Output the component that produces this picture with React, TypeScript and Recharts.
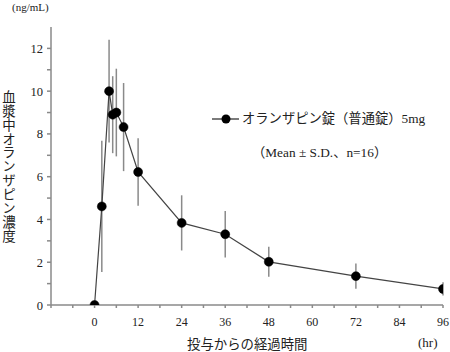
import React from 'react';
import { LineChart, Line, XAxis, YAxis, ErrorBar } from 'recharts';

const hours = [0, 2, 4, 5, 6, 8, 12, 24, 36, 48, 72, 96];
const meanConc = [0, 4.61, 10.0, 8.9, 9.0, 8.32, 6.22, 3.84, 3.31, 2.02, 1.35, 0.75];
const sdConc = [0, 3.07, 2.4, 1.8, 2.05, 2.06, 1.58, 1.29, 1.09, 0.7, 0.59, 0.31];
const xTicks = [-12, -6, 0, 6, 12, 18, 24, 30, 36, 42, 48, 54, 60, 66, 72, 78, 84, 90, 96];
const xLabelTicks = [0, 12, 24, 36, 48, 60, 72, 84, 96];
const yTicks = [0, 1, 2, 3, 4, 5, 6, 7, 8, 9, 10, 11, 12];
const yLabelTicks = [0, 2, 4, 6, 8, 10, 12];

const data = hours.map((h, i) => ({ t: h, mean: meanConc[i], sd: sdConc[i] }));

const SERIF = "'Liberation Serif', 'Noto Sans CJK JP', serif";
const JP = "'Noto Sans CJK JP', sans-serif";
const AXIS = '#8a8a8a';

const XTick = (props: any) => {
  const { x, y, payload } = props;
  if (!xLabelTicks.includes(payload.value)) return null;
  return (
    <text x={x} y={y + 16} textAnchor="middle" fontFamily={SERIF} fontSize={12} fill="#222">
      {payload.value}
    </text>
  );
};

const YTick = (props: any) => {
  const { x, y, payload } = props;
  if (!yLabelTicks.includes(payload.value)) return null;
  return (
    <text x={x} y={y + 4.5} textAnchor="end" fontFamily={SERIF} fontSize={12.5} fill="#222">
      {payload.value}
    </text>
  );
};

export default function App() {
  return (
    <div style={{ position: 'absolute', left: 0, top: 0, width: 450, height: 352, background: '#fff' }}>
      <LineChart width={450} height={352} data={data} margin={{ top: 27, right: 7, left: 0, bottom: 0 }}>
        <XAxis
          dataKey="t"
          type="number"
          domain={[-12, 96]}
          ticks={xTicks}
          interval={0}
          height={47}
          stroke={AXIS}
          strokeWidth={1.5}
          tickSize={3}
          tickMargin={2}
          tick={<XTick />}
          allowDataOverflow
        />
        <YAxis
          type="number"
          domain={[0, 13]}
          ticks={yTicks}
          interval={0}
          width={51}
          stroke={AXIS}
          strokeWidth={1.5}
          tickSize={4}
          tickMargin={4}
          tick={<YTick />}
          allowDataOverflow
        />
        <Line
          dataKey="mean"
          stroke="#444"
          strokeWidth={1.2}
          isAnimationActive={false}
          dot={{ r: 4.5, fill: '#000', stroke: '#000', strokeWidth: 0.5 }}
          activeDot={false}
        >
          <ErrorBar dataKey="sd" direction="y" width={0} stroke="#8a8a8a" strokeWidth={1.5} />
        </Line>
      </LineChart>

      <div style={{ position: 'absolute', left: 12, top: 0, fontFamily: SERIF, fontSize: 11, lineHeight: '14px', color: '#222', whiteSpace: 'nowrap' }}>
        (ng/mL)
      </div>
      <div
        style={{
          position: 'absolute',
          left: 1,
          top: 90,
          fontFamily: JP,
          fontSize: 13.5,
          lineHeight: '15px',
          color: '#222',
          writingMode: 'vertical-rl',
          letterSpacing: 0.4,
        }}
      >
        血漿中オランザピン濃度
      </div>
      <div style={{ position: 'absolute', left: 187, top: 334, fontFamily: JP, fontSize: 13.4, lineHeight: '18px', color: '#222', whiteSpace: 'nowrap' }}>
        投与からの経過時間
      </div>
      <div style={{ position: 'absolute', left: 418, top: 334, fontFamily: SERIF, fontSize: 13, lineHeight: '18px', color: '#222', whiteSpace: 'nowrap' }}>
        (hr)
      </div>

      <svg style={{ position: 'absolute', left: 0, top: 0 }} width={450} height={352} pointerEvents="none">
        <line x1={212} y1={119} x2={239} y2={119} stroke="#222" strokeWidth={1.2} />
        <circle cx={226} cy={119} r={4.5} fill="#000" />
      </svg>
      <div style={{ position: 'absolute', left: 242, top: 110, fontFamily: SERIF, fontSize: 13.3, lineHeight: '18px', color: '#222', whiteSpace: 'nowrap' }}>
        オランザピン錠（普通錠）5mg
      </div>
      <div style={{ position: 'absolute', left: 252, top: 144, fontFamily: SERIF, fontSize: 13.3, lineHeight: '18px', color: '#222', whiteSpace: 'nowrap' }}>
        （Mean ± S.D.、n=16）
      </div>
    </div>
  );
}
